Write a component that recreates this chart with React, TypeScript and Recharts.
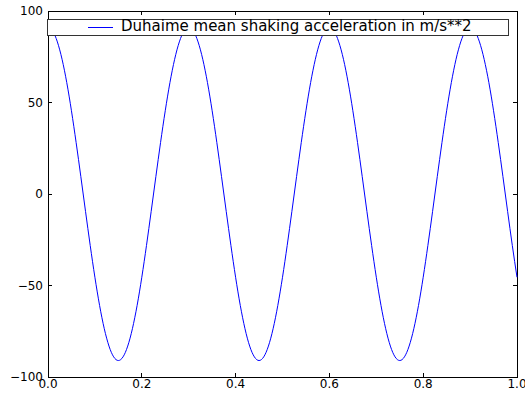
import { LineChart, Line, XAxis, YAxis, Legend, ReferenceArea } from 'recharts';

// sampled every 0.01 s from 0.0 to 1.0
const times = Array.from({ length: 101 }, (_, i) => i / 100);
const acceleration = [
  91, 89.0, 83.1, 73.6, 60.9, 45.5, 28.1, 9.5, -9.5, -28.1,
  -45.5, -60.9, -73.6, -83.1, -89.0, -91, -89.0, -83.1, -73.6, -60.9,
  -45.5, -28.1, -9.5, 9.5, 28.1, 45.5, 60.9, 73.6, 83.1, 89.0,
  91, 89.0, 83.1, 73.6, 60.9, 45.5, 28.1, 9.5, -9.5, -28.1,
  -45.5, -60.9, -73.6, -83.1, -89.0, -91, -89.0, -83.1, -73.6, -60.9,
  -45.5, -28.1, -9.5, 9.5, 28.1, 45.5, 60.9, 73.6, 83.1, 89.0,
  91, 89.0, 83.1, 73.6, 60.9, 45.5, 28.1, 9.5, -9.5, -28.1,
  -45.5, -60.9, -73.6, -83.1, -89.0, -91, -89.0, -83.1, -73.6, -60.9,
  -45.5, -28.1, -9.5, 9.5, 28.1, 45.5, 60.9, 73.6, 83.1, 89.0,
  91, 89.0, 83.1, 73.6, 60.9, 45.5, 28.1, 9.5, -9.5, -28.1,
  -45.5,
];
const xTicks = [0, 0.2, 0.4, 0.6, 0.8, 1.0];
const yTicks = [-100, -50, 0, 50, 100];
const seriesName = 'Duhaime mean shaking acceleration in m/s**2';

const data = times.map((t, i) => ({ t, a: acceleration[i] }));

const FONT = '"DejaVu Sans", sans-serif';
const TICK = 4;
// plot box size, used to mirror the tick marks onto the top and right edges
const PLOT_W = 469;
const PLOT_H = 366;

const BottomTick = (p: any) => (
  <g shapeRendering="crispEdges">
    <line x1={p.x} x2={p.x} y1={p.y} y2={p.y - TICK} stroke="#000" strokeWidth={1} />
    <line x1={p.x} x2={p.x} y1={p.y - PLOT_H} y2={p.y - PLOT_H + TICK} stroke="#000" strokeWidth={1} />
    <text x={p.x} y={p.y + 10.5} textAnchor="middle" fontFamily={FONT} fontSize={12} fill="#000">
      {p.payload.value.toFixed(1)}
    </text>
  </g>
);

const LeftTick = (p: any) => (
  <g shapeRendering="crispEdges">
    <line x1={p.x} x2={p.x + TICK} y1={p.y} y2={p.y} stroke="#000" strokeWidth={1} />
    <line x1={p.x + PLOT_W} x2={p.x + PLOT_W - TICK} y1={p.y} y2={p.y} stroke="#000" strokeWidth={1} />
    <text x={p.x - 5} y={p.y + 4.3} textAnchor="end" fontFamily={FONT} fontSize={12} fill="#000">
      {String(p.payload.value).replace('-', '\u2212')}
    </text>
  </g>
);

const LegendBox = () => (
  <div
    style={{
      position: 'relative',
      boxSizing: 'border-box',
      width: 462,
      height: 17,
      background: '#fff',
      border: '1px solid #333',
      fontFamily: FONT,
      fontSize: 15,
      lineHeight: '15px',
      color: '#000',
    }}
  >
    <div style={{ position: 'absolute', left: 40, top: 7, width: 25, height: 1, background: '#0000ff' }} />
    <span style={{ position: 'absolute', left: 73, top: -1, whiteSpace: 'nowrap' }}>{seriesName}</span>
  </div>
);

export default function App() {
  return (
    <div style={{ position: 'absolute', left: 0, top: 0, width: 525, height: 394, background: '#fff' }}>
      <LineChart width={525} height={394} data={data} margin={{ top: 11, right: 8, bottom: 0, left: 0 }}>
        <XAxis
          dataKey="t"
          type="number"
          domain={[0, 1]}
          ticks={xTicks}
          height={17}
          tickSize={0}
          tickMargin={0}
          tickLine={false}
          tick={<BottomTick />}
          axisLine={{ stroke: '#000', strokeWidth: 1, shapeRendering: 'crispEdges' }}
          interval={0}
        />
        <YAxis
          type="number"
          domain={[-100, 100]}
          ticks={yTicks}
          width={48}
          tickSize={0}
          tickMargin={0}
          tickLine={false}
          tick={<LeftTick />}
          axisLine={{ stroke: '#000', strokeWidth: 1, shapeRendering: 'crispEdges' }}
          interval={0}
        />
        {/* frame around the plot area */}
        <ReferenceArea
          x1={0}
          x2={1}
          y1={-100}
          y2={100}
          fill="none"
          fillOpacity={0}
          stroke="#000"
          strokeWidth={1}
          shapeRendering="crispEdges"
          ifOverflow="visible"
        />
        <Legend
          layout="horizontal"
          verticalAlign="middle"
          align="center"
          content={<LegendBox />}
          wrapperStyle={{ left: 47, top: 19, width: 462, height: 17 }}
        />
        <Line
          type="natural"
          dataKey="a"
          name={seriesName}
          stroke="#0000ff"
          strokeWidth={1}
          dot={false}
          isAnimationActive={false}
        />
      </LineChart>
    </div>
  );
}
